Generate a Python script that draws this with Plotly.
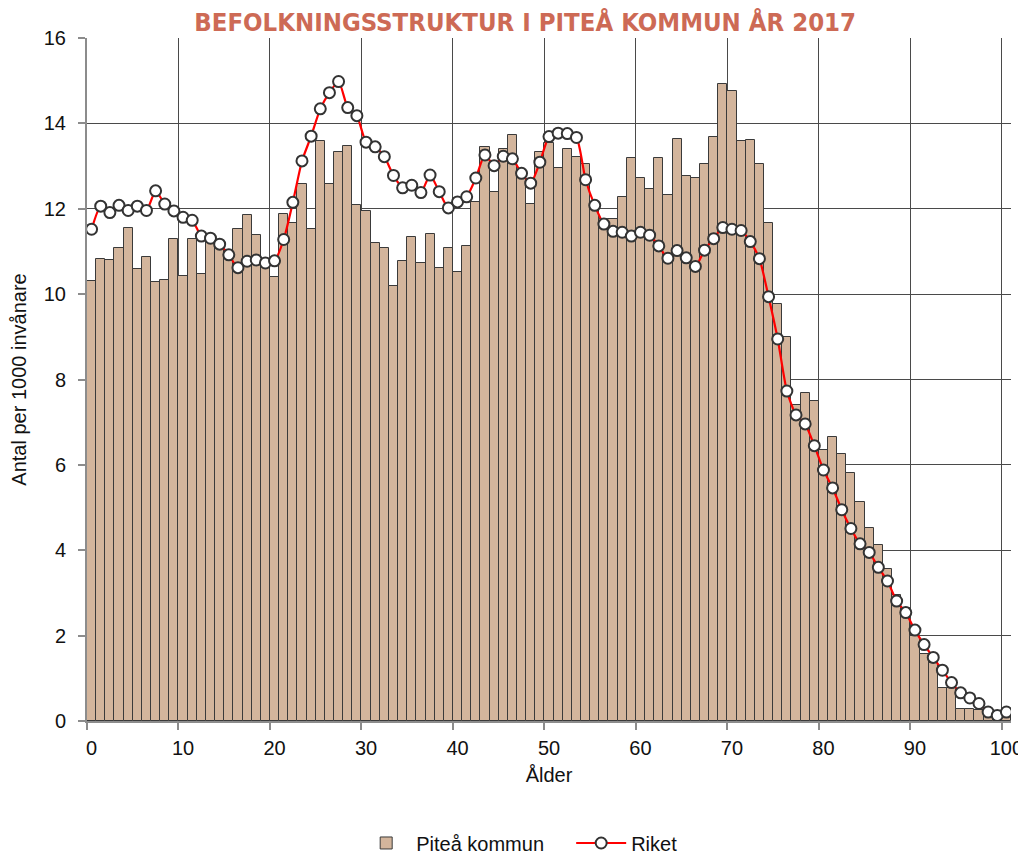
import plotly.graph_objects as go

ages = list(range(0, 101))

pitea = [10.30, 10.83, 10.79, 11.09, 11.56, 10.58, 10.86, 10.28, 10.33, 11.28,
         10.43, 11.30, 10.47, 11.22, 11.10, 10.95, 11.52, 11.85, 11.38, 10.75,
         10.40, 11.88, 11.66, 12.57, 11.53, 13.58, 12.57, 13.34, 13.46, 12.08,
         11.94, 11.19, 11.09, 10.20, 10.78, 11.35, 10.74, 11.40, 10.62, 11.09,
         10.51, 11.12, 12.16, 13.45, 12.39, 13.39, 13.73, 12.71, 12.10, 13.32,
         13.55, 12.95, 13.41, 13.21, 13.04, 12.05, 11.75, 11.75, 12.28, 13.20,
         12.71, 12.47, 13.18, 12.33, 13.63, 12.77, 12.73, 13.04, 13.67, 14.92,
         14.76, 13.58, 13.60, 13.04, 11.66, 9.76, 8.99, 7.40, 7.68, 7.49,
         6.35, 6.65, 6.26, 5.80, 5.12, 4.52, 4.13, 3.56, 2.96, 2.64,
         2.00, 1.57, 1.35, 0.78, 0.78, 0.29, 0.27, 0.25, 0.12, 0.08,
         0.09]

riket = [11.52, 12.06, 11.91, 12.08, 11.96, 12.06, 11.96, 12.42, 12.11, 11.95,
         11.80, 11.73, 11.36, 11.31, 11.17, 10.92, 10.62, 10.77, 10.80, 10.73,
         10.78, 11.28, 12.15, 13.12, 13.70, 14.34, 14.72, 14.98, 14.37, 14.18,
         13.56, 13.45, 13.22, 12.78, 12.49, 12.55, 12.38, 12.79, 12.40, 12.02,
         12.16, 12.28, 12.72, 13.26, 13.01, 13.23, 13.17, 12.83, 12.60, 13.09,
         13.69, 13.77, 13.76, 13.67, 12.68, 12.08, 11.64, 11.47, 11.45, 11.36,
         11.45, 11.38, 11.13, 10.84, 11.02, 10.85, 10.65, 11.03, 11.30, 11.56,
         11.52, 11.49, 11.23, 10.83, 9.94, 8.95, 7.73, 7.17, 6.96, 6.45,
         5.88, 5.46, 4.95, 4.51, 4.15, 3.95, 3.60, 3.28, 2.81, 2.54,
         2.13, 1.79, 1.49, 1.19, 0.90, 0.66, 0.54, 0.41, 0.21, 0.13,
         0.21]

x_tick_vals = [0, 10, 20, 30, 40, 50, 60, 70, 80, 90, 100]
x_grid_vals = [v - 0.5 for v in x_tick_vals]
y_tick_vals = [0, 2, 4, 6, 8, 10, 12, 14, 16]

TXT = "Liberation Sans, Arial, sans-serif"
GRID = "#4a4a4a"
AXIS = "#8c8c8c"
INK = "#111111"

fig = go.Figure()
fig.add_trace(go.Bar(
    x=ages, y=pitea, name="Piteå kommun", width=1.0,
    marker=dict(color="#D3B59C", line=dict(color="#3a3a3a", width=1)),
))
fig.add_trace(go.Scatter(
    x=ages, y=riket, name="Riket", mode="lines+markers",
    line=dict(color="#FF0000", width=2.2, shape="spline", smoothing=0.6),
    marker=dict(symbol="circle", size=11, color="white",
                line=dict(color="#333333", width=2)),
))

fig.update_layout(
    width=1018, height=846,
    paper_bgcolor="white", plot_bgcolor="white",
    margin=dict(l=79, r=15, t=30, b=133, autoexpand=False),
    bargap=0,
    title=dict(text="<b>BEFOLKNINGSSTRUKTUR I PITEÅ KOMMUN ÅR 2017</b>",
               x=0.508, xanchor="center", y=0.983, yanchor="middle",
               font=dict(family="Liberation Sans Narrow, DejaVu Sans Condensed, Arial Narrow, sans-serif",
                         size=25.5, color="#CD6A55")),
    font=dict(family=TXT, size=20, color=INK),
    legend=dict(orientation="h", x=0.524, xanchor="center", y=-0.1786, yanchor="middle",
                font=dict(family=TXT, size=20, color=INK),
                itemwidth=50, tracegroupgap=0, entrywidth=150, entrywidthmode="pixels"),
    showlegend=True,
)

fig.update_xaxes(
    range=[-0.5, 100.5], automargin=False,
    tickmode="array", tickvals=x_tick_vals, ticktext=[str(v) for v in x_tick_vals],
    ticks="outside", ticklen=8, tickcolor="rgba(0,0,0,0)",
    showgrid=False, zeroline=False,
    showline=True, linecolor=AXIS, linewidth=2,
    tickfont=dict(family=TXT, size=20, color=INK),
    title=dict(text="Ålder", font=dict(family=TXT, size=20, color=INK), standoff=10),
    minor=dict(tickmode="array", tickvals=x_grid_vals, ticks="outside", ticklen=7,
               tickcolor=AXIS, tickwidth=1.5, showgrid=True, gridcolor=GRID, gridwidth=1),
)
fig.update_yaxes(
    range=[0, 16], automargin=False, tickmode="array", tickvals=y_tick_vals,
    ticks="outside", ticklen=7, tickcolor=AXIS, tickwidth=1.5,
    ticklabelstandoff=8,
    showgrid=True, gridcolor=GRID, gridwidth=1, zeroline=False,
    showline=True, linecolor=AXIS, linewidth=2,
    tickfont=dict(family=TXT, size=20, color=INK),
    title=dict(text="Antal per 1000 invånare", font=dict(family=TXT, size=20, color=INK),
               standoff=20),
)

fig.write_html("out.html")
